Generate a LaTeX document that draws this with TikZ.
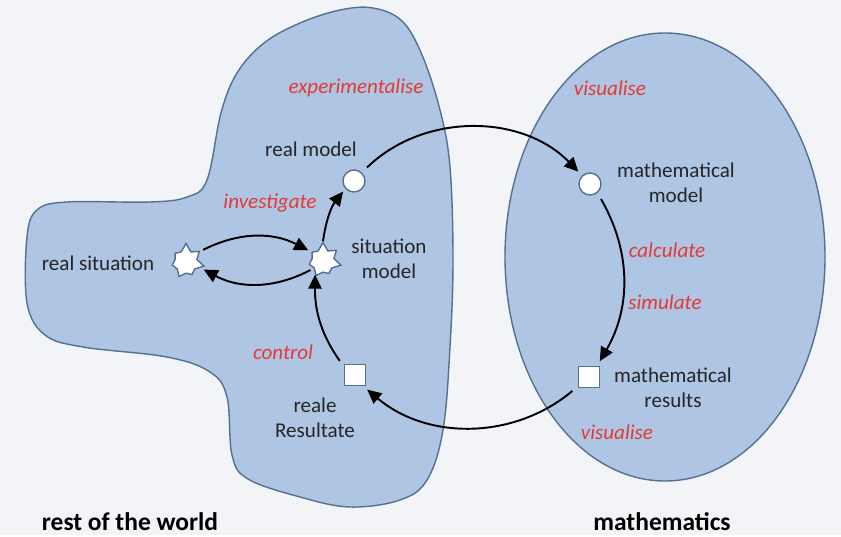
\documentclass[tikz,border=0pt]{standalone}
\usepackage{fontspec}
\setmainfont{Carlito}
\usetikzlibrary{shapes.symbols,arrows.meta}
\definecolor{bg}{RGB}{243,244,247}
\definecolor{areafill}{RGB}{174,197,227}
\definecolor{arealine}{RGB}{84,112,146}
\definecolor{verbred}{RGB}{228,58,52}
\begin{document}
\begin{tikzpicture}[x=0.02cm,y=0.02cm,
  txt/.style={font=\fontsize{12}{14.5}\selectfont,align=center,text=black!85},
  verb/.style={font=\fontsize{12}{14.5}\selectfont\itshape,text=verbred},
  world/.style={font=\fontsize{14.5}{17}\selectfont\bfseries},
  situ/.style={starburst,starburst points=7,starburst point height=0.16cm,random starburst=7,
    fill=white,draw=arealine,thick,inner sep=4.5pt},
  modl/.style={circle,fill=white,draw=arealine,thick,minimum size=0.44cm,inner sep=0pt},
  rslt/.style={rectangle,fill=white,draw=arealine,thick,minimum size=0.42cm,inner sep=0pt},
  arr/.style={-{Triangle[length=8pt,width=7.5pt]},line width=1.1pt,
    shorten <=4pt,shorten >=3pt}]
  \fill[bg] (0,0) rectangle (841,535);
  % the two worlds
  \draw[arealine,fill=areafill,thick] plot[smooth cycle,tension=0.6] coordinates {
    (373,527) (402,514) (422,480) (440,425) (450,368) (453,275) (450,188)
    (443,105) (427,55) (400,35) (350,28) (300,38) (248,56) (232,80)
    (227,138) (210,163) (167,178) (83,188) (45,200) (27,232) (27,298)
    (37,325) (67,333) (150,333) (187,338) (207,355) (221,422) (237,462)
    (264,492) (300,512) (340,525)};
  \draw[arealine,fill=areafill,thick] (665,278) ellipse (160 and 224);
  \node[world] (row) at (130,13) {rest of the world};
  \node[world] (math) at (662,13) {mathematics};
  % stations
  \node[situ] (rs) at (186,273) {};
  \node[situ] (sm) at (323,274) {};
  \node[modl] (rm) at (354,354) {};
  \node[modl] (mm) at (590,351) {};
  \node[rslt] (rr) at (355,160) {};
  \node[rslt] (mr) at (589,158) {};
  \node[txt] (rstxt) at (98,272) {real situation};
  \node[txt] (smtxt) at (389,276) {situation\\model};
  \node[txt] (rmtxt) at (311,386) {real model};
  \node[txt] (mmtxt) at (676,352) {mathematical\\model};
  \node[txt] (mrtxt) at (673,147) {mathematical\\results};
  \node[txt] (rrtxt) at (315,117) {reale\\Resultate};
  % activities
  \node[verb] (v1) at (356,447) {experimentalise};
  \node[verb] (v2) at (610,447) {visualise};
  \node[verb] (v3) at (270,332) {investigate};
  \node[verb] (v4) at (667,285) {calculate};
  \node[verb] (v5) at (665,233) {simulate};
  \node[verb] (v6) at (283,183) {control};
  \node[verb] (v7) at (617,103) {visualise};
  % cycle
  \draw[arr,shorten <=2pt,shorten >=2pt] (rs.37) to[bend left=27] (sm.142);
  \draw[arr,shorten <=2pt,shorten >=2pt] (sm.218) to[bend left=28] (rs.-22);
  \draw[arr,shorten <=0pt,shorten >=2pt] (sm.north) to[bend left=15] (rm.222);
  \draw[arr] (rm.47) to[bend left=45] (mm.133);
  \draw[arr] (mm.-50) to[bend left=30] (mr.54);
  \draw[arr] (mr.220) to[bend left=40] (rr.-54);
  \draw[arr,shorten >=0pt] (rr.143) to[bend left=18] (sm.240);
\end{tikzpicture}
\end{document}
